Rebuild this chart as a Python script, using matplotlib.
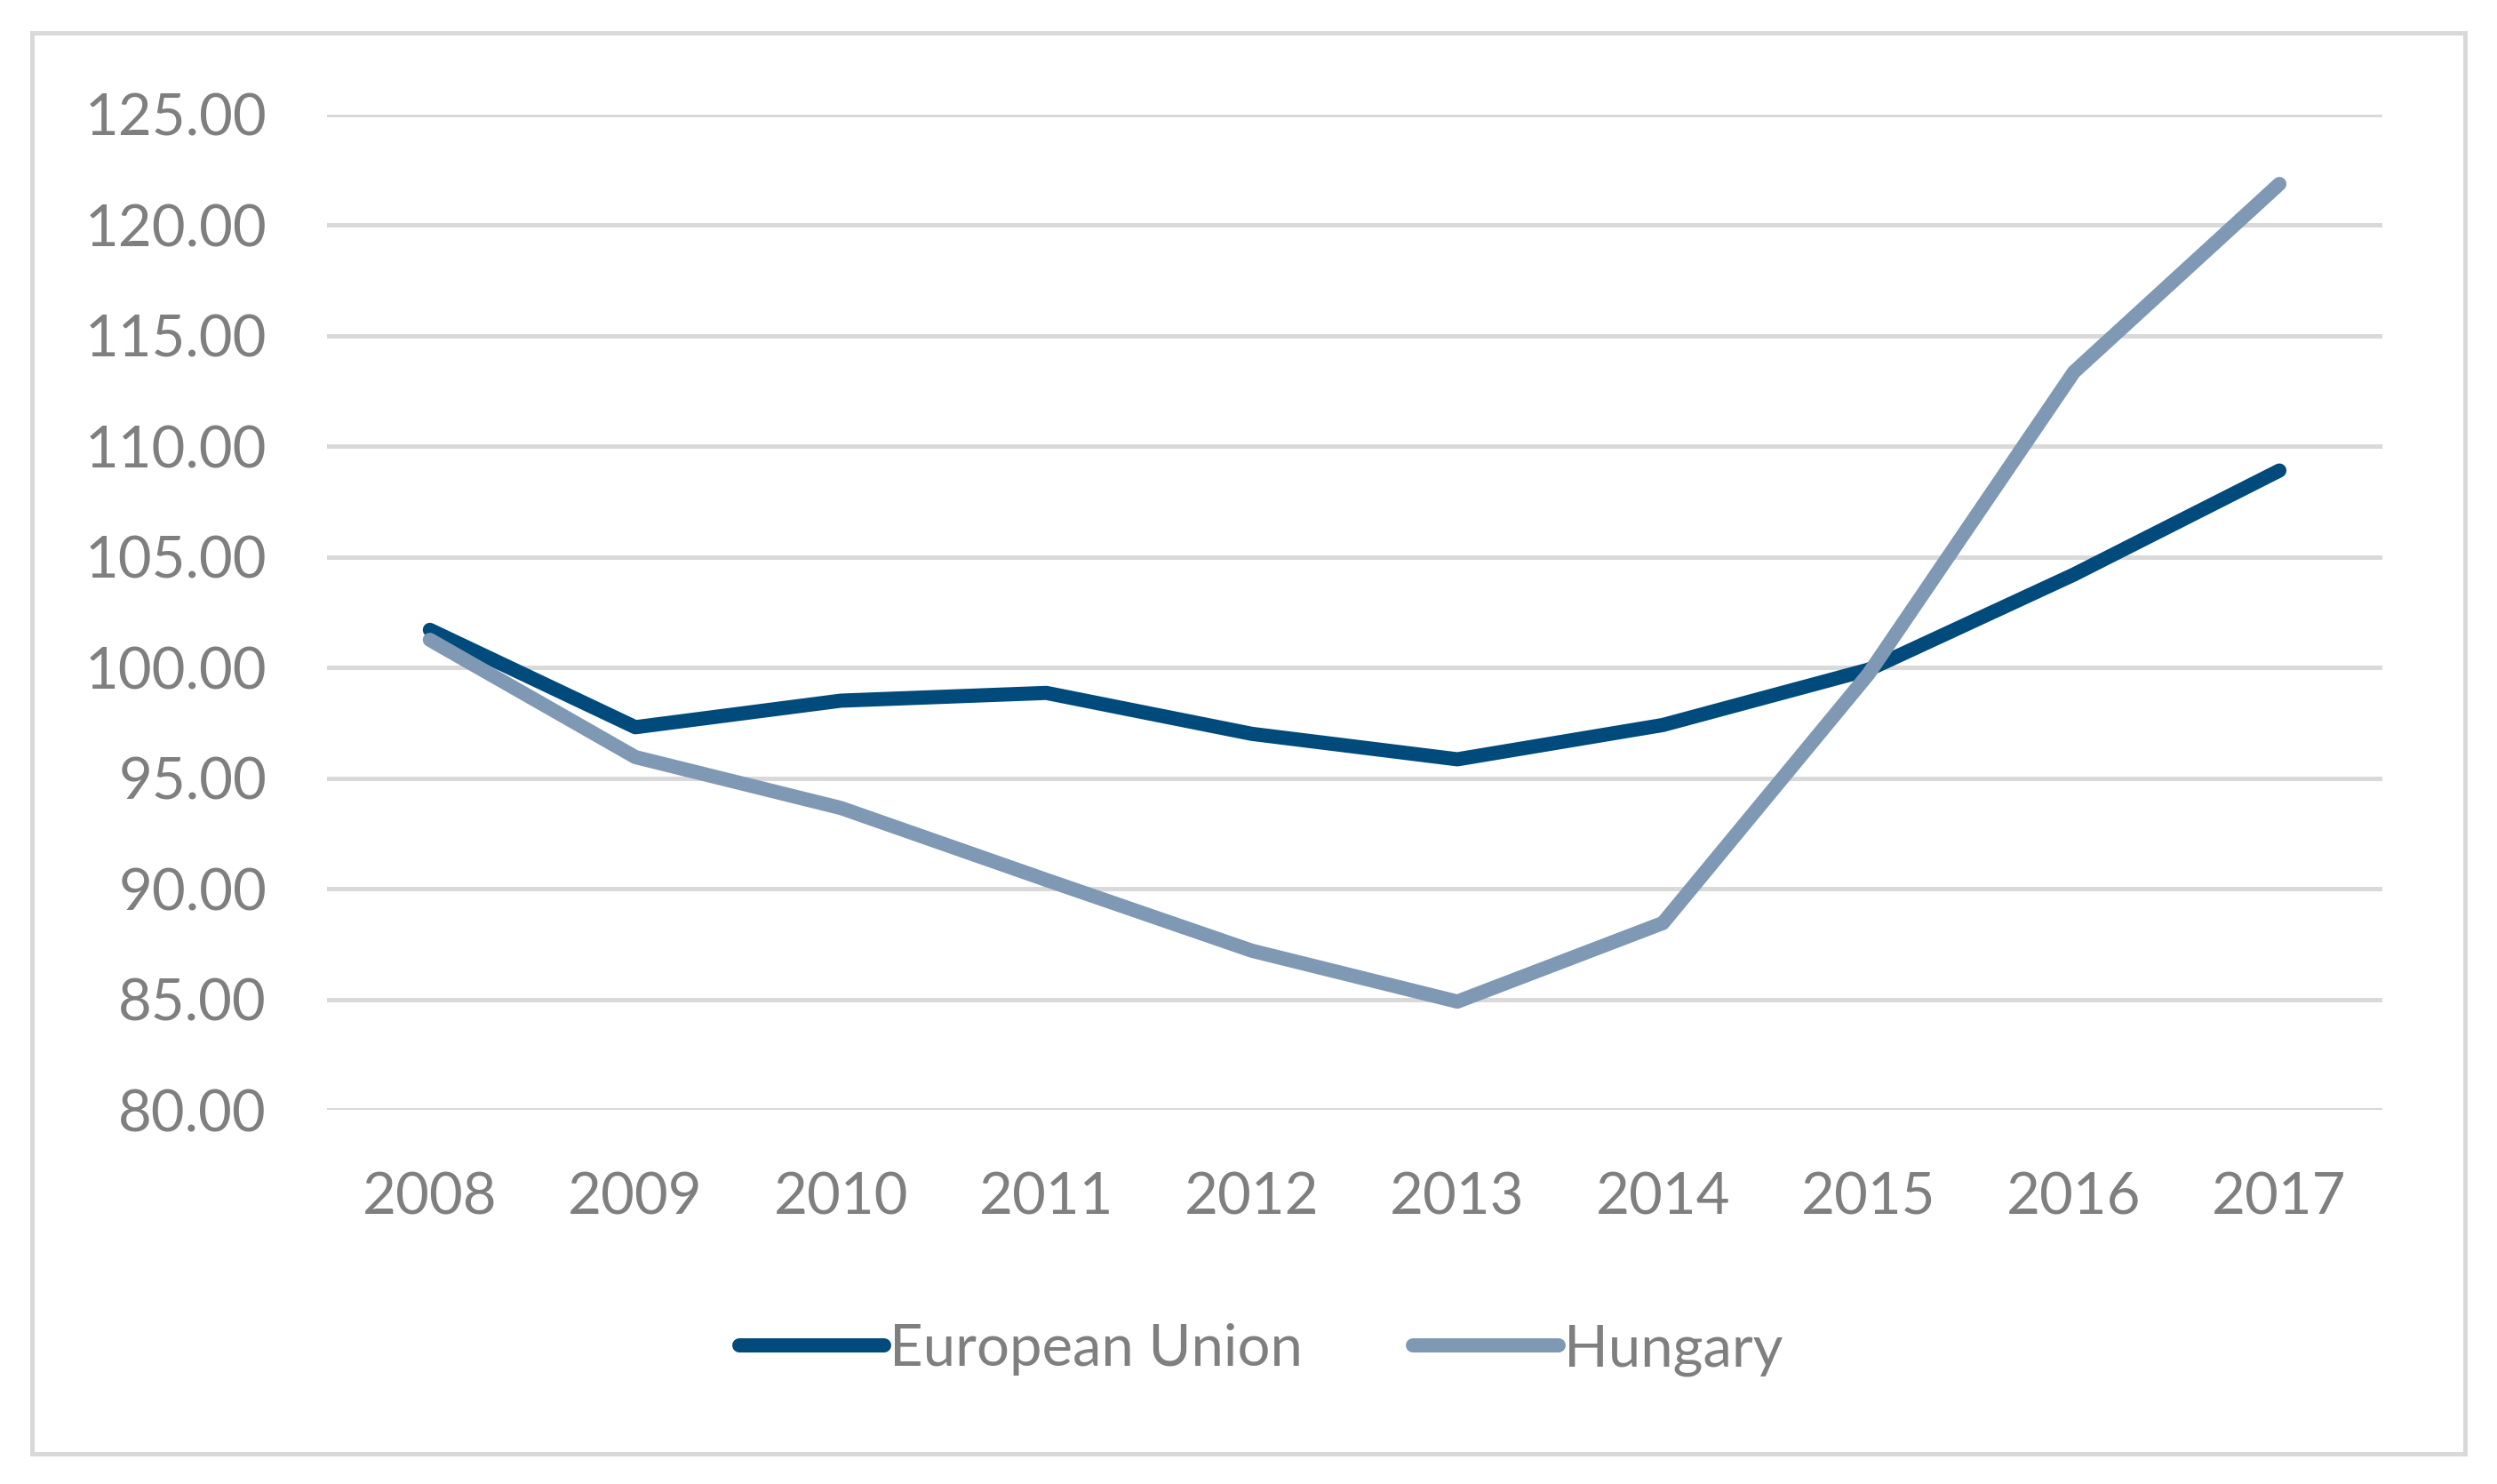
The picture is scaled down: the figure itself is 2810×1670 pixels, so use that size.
import matplotlib.pyplot as plt
from matplotlib.patches import Rectangle

years = ["2008", "2009", "2010", "2011", "2012", "2013", "2014", "2015", "2016", "2017"]
eu = [101.7, 97.3, 98.5, 98.85, 97.0, 95.85, 97.4, 99.9, 104.2, 108.9]
hungary = [101.25, 95.95, 93.65, 90.4, 87.2, 84.9, 88.45, 99.7, 113.35, 121.85]
y_ticks = [80, 85, 90, 95, 100, 105, 110, 115, 120, 125]

plt.rcParams['font.family'] = ['Lato', 'DejaVu Sans']
grey = '#7F7F7F'

fig = plt.figure(figsize=(28.1, 16.7), dpi=100)
ax = fig.add_axes([0.131, 0.252, 0.823, 0.671])

x = list(range(len(years)))
ax.plot(x, eu, color='#004B7B', lw=11.5, solid_capstyle='round', solid_joinstyle='round',
        label='European Union', zorder=3)
ax.plot(x, hungary, color='#7F99B4', lw=11.5, solid_capstyle='round', solid_joinstyle='round',
        label='Hungary', zorder=3)

ax.set_xlim(-0.5, len(years) - 0.5)
ax.set_ylim(80, 125)
ax.set_yticks(y_ticks)
ax.set_yticklabels([f"{v:.2f}" for v in y_ticks])
ax.set_xticks(x)
ax.set_xticklabels(years)
ax.tick_params(axis='both', length=0, labelsize=47, labelcolor=grey)
ax.tick_params(axis='y', pad=49)
ax.tick_params(axis='x', pad=50)
ax.grid(axis='y', color='#D9D9D9', lw=3.6)
ax.set_axisbelow(True)
for s in ax.spines.values():
    s.set_visible(False)

fig.legend(loc='center', bbox_to_anchor=(0.505, 0.0904), ncol=2, frameon=False,
           fontsize=47, labelcolor=grey, handlelength=2.5, handletextpad=0.1,
           columnspacing=1.9)

fig.patches.append(Rectangle((36 / 2810, 1 - 1636 / 1670), (2774 - 36) / 2810, (1636 - 37) / 1670,
                             transform=fig.transFigure, fill=False, edgecolor='#D9D9D9', lw=3.6))

fig.savefig('out.png', dpi=100)
